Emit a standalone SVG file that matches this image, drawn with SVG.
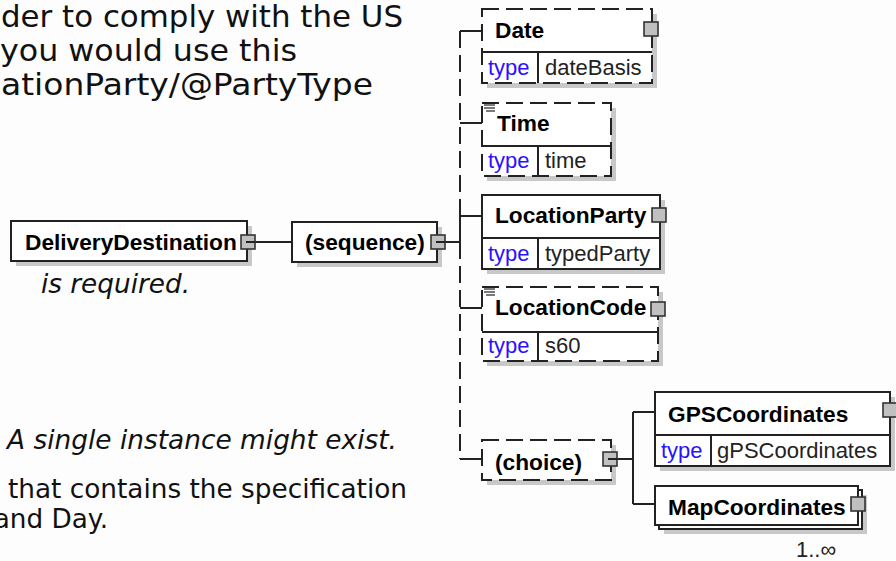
<svg xmlns="http://www.w3.org/2000/svg" width="896" height="561" viewBox="0 0 896 561">
<style>
.prose{font-family:"DejaVu Sans",Verdana,sans-serif;fill:#111}
.big{font-size:31px}
.small{font-size:26.3px}
.it{font-style:italic}
.lbl{font-family:"Liberation Sans",Arial,sans-serif;font-size:22.7px;font-weight:bold;fill:#000}
.typ{font-family:"Liberation Sans",Arial,sans-serif;font-size:22px;fill:#2a12ff}
.val{font-family:"Liberation Sans",Arial,sans-serif;font-size:22px;fill:#222}
.occ{font-family:"Liberation Sans",Arial,sans-serif;font-size:22px;fill:#222}
.box{fill:#fff;stroke:#222;stroke-width:2}
.dash{fill:#fff;stroke:#222;stroke-width:2;stroke-dasharray:17 7}
.shadow{fill:#c8c8c8}
.ln{stroke:#222;stroke-width:2;fill:none}
.dl{stroke:#222;stroke-width:2;fill:none;stroke-dasharray:17 7}
.sq{fill:#c0c0c0;stroke:#333;stroke-width:1.6}
.doc{stroke:#222;stroke-width:1.2}
</style>
<rect width="896" height="561" fill="#fdfdfd"/>

<g id="prose">
<text class="prose big" x="1" y="27" textLength="402" lengthAdjust="spacingAndGlyphs">der to comply with the US</text>
<text class="prose big" x="0" y="61" textLength="297" lengthAdjust="spacingAndGlyphs">you would use this</text>
<text class="prose big" x="1" y="95" textLength="372" lengthAdjust="spacingAndGlyphs">ationParty/@PartyType</text>
<text class="prose small it" x="190" y="293" text-anchor="end">is required.</text>
<text class="prose small it" x="7" y="449" textLength="390" lengthAdjust="spacingAndGlyphs">A single instance might exist.</text>
<text class="prose small" x="8" y="498" textLength="399" lengthAdjust="spacingAndGlyphs">that contains the specification</text>
<text class="prose small" x="108" y="528" text-anchor="end">and Day.</text>
</g>

<g id="connectors">
<line class="ln" x1="254" y1="242" x2="292" y2="242"/>
<line class="ln" x1="444" y1="242" x2="460" y2="242"/>
<line class="dl" x1="460" y1="31" x2="460" y2="216"/>
<line class="ln" x1="460" y1="216" x2="460" y2="242"/>
<line class="dl" x1="460" y1="242" x2="460" y2="459"/>
<line class="ln" x1="460" y1="31" x2="482" y2="31"/>
<line class="ln" x1="460" y1="123" x2="482" y2="123"/>
<line class="ln" x1="460" y1="216" x2="482" y2="216"/>
<line class="ln" x1="460" y1="308" x2="482" y2="308"/>
<line class="ln" x1="460" y1="459" x2="482" y2="459"/>
<line class="ln" x1="617" y1="459" x2="633" y2="459"/>
<line class="ln" x1="633" y1="412" x2="633" y2="504"/>
<line class="ln" x1="633" y1="412" x2="655" y2="412"/>
<line class="ln" x1="633" y1="504" x2="655" y2="504"/>
</g>

<g id="DeliveryDestination">
<rect class="shadow" x="16" y="226" width="236" height="40"/>
<rect class="box" x="11" y="221" width="236" height="40"/>
<text class="lbl" x="25" y="250">DeliveryDestination</text>
<rect class="sq" x="241" y="235" width="14" height="14"/>
<line class="ln" x1="246" y1="242" x2="255" y2="242" stroke-width="1.6"/>
</g>

<g id="sequence">
<rect class="shadow" x="297" y="227" width="145" height="40"/>
<rect class="box" x="292" y="222" width="145" height="40"/>
<text class="lbl" x="305" y="250">(sequence)</text>
<rect class="sq" x="431" y="235" width="14" height="14"/>
<line class="ln" x1="436" y1="242" x2="445" y2="242" stroke-width="1.6"/>
</g>

<g id="Date">
<rect class="shadow" x="487" y="14" width="170" height="74"/>
<rect class="dash" x="482" y="9" width="170" height="74"/>
<line class="ln" x1="482" y1="52" x2="652" y2="52"/>
<line class="ln" x1="538" y1="52" x2="538" y2="83"/>
<text class="lbl" x="495" y="38">Date</text>
<text class="typ" x="488" y="75">type</text>
<text class="val" x="545" y="75">dateBasis</text>
<rect class="sq" x="644" y="22" width="14" height="14"/>
</g>

<g id="Time">
<rect class="shadow" x="487" y="108" width="129" height="73"/>
<rect class="dash" x="482" y="103" width="129" height="73"/>
<line class="ln" x1="482" y1="146" x2="611" y2="146"/>
<line class="ln" x1="538" y1="146" x2="538" y2="176"/>
<line class="doc" x1="484" y1="105" x2="495" y2="105"/>
<line class="doc" x1="484" y1="108" x2="495" y2="108"/>
<line class="doc" x1="486" y1="111" x2="495" y2="111"/>
<text class="lbl" x="497" y="131">Time</text>
<text class="typ" x="488" y="168">type</text>
<text class="val" x="545" y="168">time</text>
</g>

<g id="LocationParty">
<rect class="shadow" x="487" y="200" width="178" height="74"/>
<rect class="box" x="482" y="195" width="178" height="74"/>
<line class="ln" x1="482" y1="238" x2="660" y2="238"/>
<line class="ln" x1="538" y1="238" x2="538" y2="269"/>
<text class="lbl" x="495" y="223">LocationParty</text>
<text class="typ" x="488" y="261">type</text>
<text class="val" x="545" y="261">typedParty</text>
<rect class="sq" x="652" y="208" width="14" height="14"/>
</g>

<g id="LocationCode">
<rect class="shadow" x="487" y="292" width="176" height="74"/>
<rect class="dash" x="482" y="287" width="176" height="74"/>
<line class="ln" x1="482" y1="332" x2="658" y2="332"/>
<line class="ln" x1="538" y1="332" x2="538" y2="361"/>
<line class="doc" x1="484" y1="289" x2="495" y2="289"/>
<line class="doc" x1="484" y1="292" x2="495" y2="292"/>
<line class="doc" x1="486" y1="295" x2="495" y2="295"/>
<text class="lbl" x="495" y="315">LocationCode</text>
<text class="typ" x="488" y="353">type</text>
<text class="val" x="545" y="353">s60</text>
<rect class="sq" x="651" y="302" width="14" height="14"/>
</g>

<g id="choice">
<rect class="shadow" x="487" y="445" width="129" height="40"/>
<rect class="dash" x="482" y="440" width="129" height="40"/>
<text class="lbl" x="495" y="470">(choice)</text>
<rect class="sq" x="603" y="452" width="14" height="14"/>
<line class="ln" x1="608" y1="459" x2="617" y2="459" stroke-width="1.6"/>
</g>

<g id="GPSCoordinates">
<rect class="shadow" x="660" y="397" width="235" height="74"/>
<rect class="box" x="655" y="392" width="235" height="74"/>
<line class="ln" x1="655" y1="435" x2="890" y2="435"/>
<line class="ln" x1="711" y1="435" x2="711" y2="466"/>
<text class="lbl" x="668" y="422">GPSCoordinates</text>
<text class="typ" x="661" y="458">type</text>
<text class="val" x="717" y="458">gPSCoordinates</text>
<rect class="sq" x="883" y="403" width="14" height="14"/>
</g>

<g id="MapCoordinates">
<rect class="shadow" x="664" y="495" width="203" height="39"/>
<rect class="box" x="659" y="490" width="203" height="39"/>
<rect class="box" x="655" y="486" width="203" height="39"/>
<text class="lbl" x="668" y="515">MapCoordinates</text>
<rect class="sq" x="851" y="497" width="14" height="14"/>
<text class="occ" x="796" y="557">1..∞</text>
</g>
</svg>
